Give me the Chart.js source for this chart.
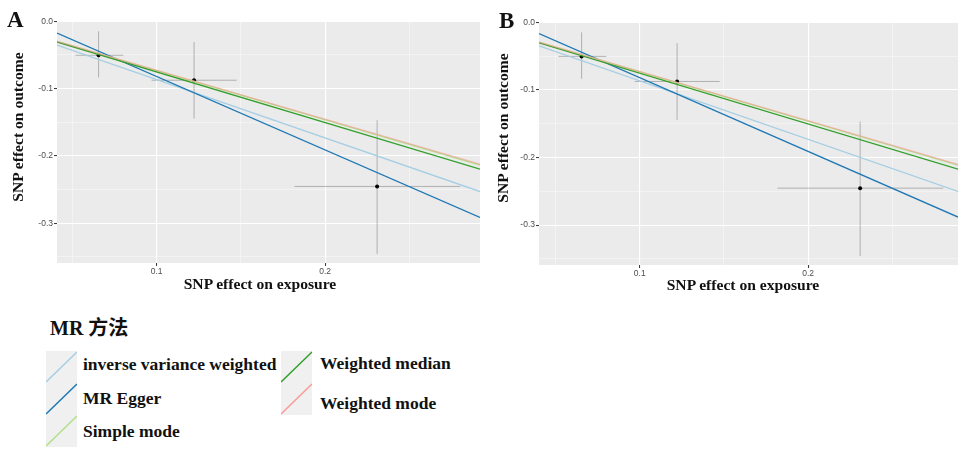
<!DOCTYPE html>
<html>
<head>
<meta charset="utf-8">
<script src="https://cdn.jsdelivr.net/npm/chart.js@4"></script>
<style>
  body { margin: 0; background: #fff; width: 958px; height: 457px; position: relative; overflow: hidden; }
  .panel { position: absolute; }
  .lbl { position: absolute; font-family: "Liberation Serif", "Times New Roman", serif; font-weight: bold; color: #111; white-space: nowrap; }
  .title { font-size: 15.6px; transform: translate(-50%, -50%); }
  .ytitle { font-size: 15.6px; transform: translate(-50%, -50%) rotate(-90deg); }
  .letter { font-size: 23px; }
  .key { position: absolute; width: 31px; height: 32px; background: #f0f0f0; }
  .ktext { position: absolute; font-family: "Liberation Serif", serif; font-weight: bold; font-size: 17.5px; color: #111; transform: translateY(-50%); white-space: nowrap; }
</style>
</head>
<body>
<div class="panel" style="left:0;top:0;width:480px;height:300px"><canvas id="chartA"></canvas></div>
<div class="panel" style="left:478px;top:0;width:480px;height:300px"><canvas id="chartB"></canvas></div>

<div class="lbl letter" style="left:7px;top:7px">A</div>
<div class="lbl letter" style="left:499px;top:8px">B</div>
<div class="lbl title" style="left:260px;top:284px">SNP effect on exposure</div>
<div class="lbl title" style="left:743px;top:285px">SNP effect on exposure</div>
<div class="lbl ytitle" style="left:18px;top:127px">SNP effect on outcome</div>
<div class="lbl ytitle" style="left:503px;top:128px">SNP effect on outcome</div>

<div id="legend"></div>

<script>
// SNP estimates
const snpX = [0.0655, 0.1222, 0.2309];
const snpY = [-0.0504, -0.0875, -0.2453];
const snpXLo = [0.0518, 0.0970, 0.1818];
const snpXHi = [0.0802, 0.1475, 0.2803];
const snpYLo = [-0.0835, -0.1444, -0.3457];
const snpYHi = [-0.0148, -0.0307, -0.1469];

// MR methods: slope and intercept of each fitted line
const methods = ['inverse variance weighted', 'MR Egger', 'Simple mode', 'Weighted median', 'Weighted mode'];
const slopes = [-0.866, -1.091, -0.731, -0.752, -0.727];
const intercepts = [0, 0.0272, 0, 0, 0];
const methodColors = ['#a6cee3', '#1f78b4', '#b2df8a', '#33a02c', 'rgba(251,154,153,0.6)'];
const drawOrder = [5, 4, 3, 2, 1];

const isMajor = v => Math.abs(v * 10 - Math.round(v * 10)) < 1e-6;

const panelBg = {
  id: 'panelBg',
  beforeDraw(chart) {
    const { ctx, chartArea: a } = chart;
    ctx.save();
    ctx.fillStyle = '#ebebeb';
    ctx.fillRect(a.left, a.top, a.right - a.left, a.bottom - a.top);
    ctx.restore();
  }
};

function axis(min, max, fitFn) {
  return {
    type: 'linear', min: min, max: max,
    border: { display: false },
    afterFit: fitFn,
    grid: {
      color: c => (c.tick && isMajor(c.tick.value)) ? '#ffffff' : 'rgba(255,255,255,0.75)',
      lineWidth: c => (c.tick && isMajor(c.tick.value)) ? 1.1 : 0.55,
      tickColor: c => (c.tick && isMajor(c.tick.value)) ? '#333333' : 'rgba(0,0,0,0)',
      tickLength: 3,
      tickWidth: 1
    },
    ticks: {
      stepSize: 0.05, includeBounds: false, autoSkip: false, maxRotation: 0,
      padding: 1,
      color: '#4d4d4d',
      font: { family: 'Liberation Sans', size: 8.5 },
      callback: v => isMajor(v) ? v.toFixed(1) : ''
    }
  };
}

function makePanel(id, xr, yr, yWidth, xHeight, padTop) {
  const datasets = [];
  for (let i = 0; i < snpX.length; i++) {
    datasets.push({ data: [{ x: snpXLo[i], y: snpY[i] }, { x: snpXHi[i], y: snpY[i] }],
      showLine: true, pointRadius: 0, borderColor: 'rgba(120,120,120,0.5)', borderWidth: 1, order: 10 });
    datasets.push({ data: [{ x: snpX[i], y: snpYLo[i] }, { x: snpX[i], y: snpYHi[i] }],
      showLine: true, pointRadius: 0, borderColor: 'rgba(120,120,120,0.5)', borderWidth: 1, order: 10 });
  }
  datasets.push({ data: snpX.map((x, i) => ({ x: x, y: snpY[i] })), pointRadius: 2,
    pointBackgroundColor: '#000', pointBorderWidth: 0, order: 9 });
  methods.forEach((m, k) => {
    datasets.push({ label: m,
      data: xr.map(x => ({ x: x, y: intercepts[k] + slopes[k] * x })),
      showLine: true, pointRadius: 0, borderColor: methodColors[k], borderWidth: 1.3, order: drawOrder[k] });
  });

  new Chart(document.getElementById(id), {
    type: 'scatter',
    data: { datasets: datasets },
    options: {
      responsive: true, maintainAspectRatio: false, animation: false,
      layout: { autoPadding: false, padding: { top: padTop, left: 0, right: 0, bottom: 0 } },
      plugins: { legend: { display: false }, tooltip: { enabled: false } },
      scales: {
        x: axis(xr[0], xr[1], s => { s.height = xHeight; }),
        y: axis(yr[0], yr[1], s => { s.width = yWidth; })
      }
    },
    plugins: [panelBg]
  });
}

makePanel('chartA', [0.0408, 0.292], [-0.359, 0.0005], 57, 37, 21);
makePanel('chartB', [0.0402, 0.289], [-0.359, 0.0005], 61, 35, 22);

// legend
const keyPos = [[46, 351], [46, 383], [46, 415], [281, 351], [281, 383]];
const textPos = [[83, 364], [83, 398], [83, 431], [320, 363], [320, 403]];
const legendColors = ['#a6cee3', '#1f78b4', '#b2df8a', '#33a02c', '#fb9a99'];
let html = '<div class="lbl" style="left:50px;top:312px;font-size:20px;font-family:\'Liberation Serif\',\'Noto Sans CJK SC\',serif">MR 方法</div>';
methods.forEach((m, k) => {
  html += '<div class="key" style="left:' + keyPos[k][0] + 'px;top:' + keyPos[k][1] + 'px">' +
    '<svg width="31" height="32"><line x1="0" y1="31" x2="31" y2="1" stroke="' + legendColors[k] + '" stroke-width="1.6"/></svg></div>';
  html += '<div class="ktext" style="left:' + textPos[k][0] + 'px;top:' + textPos[k][1] + 'px">' + m + '</div>';
});
document.getElementById('legend').innerHTML = html;
</script>
</body>
</html>
